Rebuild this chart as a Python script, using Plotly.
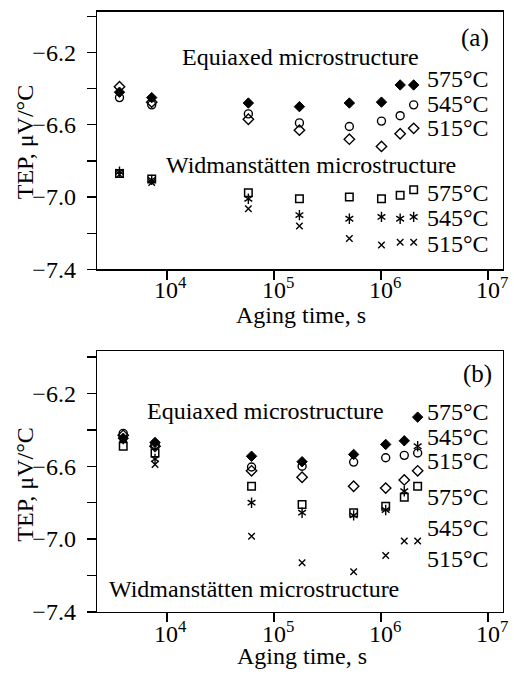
import plotly.graph_objects as go

# ---------------- data ----------------
# Panel (a)
t_a = [3600, 7200, 57600, 172800, 506000, 1010000, 1510000, 2020000]
eq575_a = [-6.42, -6.45, -6.48, -6.50, -6.48, -6.475, -6.38, -6.38]
eq545_a = [-6.45, -6.49, -6.54, -6.59, -6.61, -6.58, -6.55, -6.49]
eq515_a = [-6.39, -6.475, -6.57, -6.63, -6.68, -6.72, -6.65, -6.62]
wd575_a = [-6.87, -6.90, -6.976, -7.01, -7.00, -7.01, -6.99, -6.96]
wd545_a = [-6.86, -6.905, -7.01, -7.10, -7.12, -7.11, -7.12, -7.11]
wd515_a = [-6.875, -6.92, -7.065, -7.16, -7.23, -7.265, -7.25, -7.25]

# Panel (b)
t_b = [3900, 7730, 61700, 183000, 555000, 1106000, 1650000, 2200000]
eq575_b = [-6.446, -6.469, -6.545, -6.575, -6.535, -6.48, -6.46, -6.33]
eq545_b = [-6.419, -6.48, -6.604, -6.60, -6.577, -6.553, -6.54, -6.527]
eq515_b = [-6.43, -6.49, -6.625, -6.66, -6.71, -6.72, -6.675, -6.625]
wd575_b = [-6.49, -6.527, -6.71, -6.81, -6.855, -6.82, -6.77, -6.71]
wd545_b = [-6.45, -6.56, -6.80, -6.855, -6.87, -6.84, -6.737, -6.49]
wd515_b = [-6.45, -6.59, -6.985, -7.13, -7.18, -7.09, -7.01, -7.01]

y_tickvals = [-6.0, -6.2, -6.4, -6.6, -6.8, -7.0, -7.2, -7.4]
y_ticktext = ["", "\u22126.2", "", "\u22126.6", "", "\u22127.0", "", "\u22127.4"]
x_decades = [4, 5, 6, 7]
x_tickvals = [10 ** k for k in x_decades]
x_ticktext = ["10<sup>%d</sup>" % k for k in x_decades]
temps = ["575\u00b0C", "545\u00b0C", "515\u00b0C"]

W, H = 514, 687
FONT = "Liberation Serif"
FS = 24


def px(x):
    return x / W


def py(y):
    return 1 - y / H


fig = go.Figure()

LW = 1.4
styles = [
    [dict(symbol="diamond", size=8, color="black", line=dict(width=1, color="black"))],
    [dict(symbol="circle-open", size=8, color="black", line=dict(width=LW, color="black"))],
    [dict(symbol="diamond-open", size=8, color="black", line=dict(width=LW, color="black"))],
    [dict(symbol="square-open", size=7.5, color="black", line=dict(width=1.5, color="black"))],
    [dict(symbol="y-up-open", size=6.5, color="black", line=dict(width=LW, color="black")),
     dict(symbol="y-down-open", size=6.5, color="black", line=dict(width=LW, color="black"))],
    [dict(symbol="x-thin-open", size=6.5, color="black", line=dict(width=LW, color="black"))],
]

panels = [
    ("x", "y", t_a, [eq575_a, eq545_a, eq515_a, wd575_a, wd545_a, wd515_a]),
    ("x2", "y2", t_b, [eq575_b, eq545_b, eq515_b, wd575_b, wd545_b, wd515_b]),
]
for xa, ya, t, series in panels:
    for s, sts in zip(series, styles):
        for st in sts:
            fig.add_trace(go.Scatter(x=t, y=s, mode="markers", marker=st,
                                     xaxis=xa, yaxis=ya, showlegend=False,
                                     cliponaxis=False, hoverinfo="skip"))

xr = [3.346, 7.14]
axis_common = dict(showline=True, linecolor="black", linewidth=1.3, mirror=True,
                   ticks="outside", ticklen=9, tickwidth=1.3, tickcolor="black",
                   showgrid=False, zeroline=False,
                   tickfont=dict(family=FONT, size=FS, color="black"))

fig.update_layout(
    width=W, height=H,
    margin=dict(l=0, r=0, t=0, b=0),
    plot_bgcolor="white", paper_bgcolor="white",
    font=dict(family=FONT, size=FS, color="black"),
    xaxis=dict(type="log", range=xr, domain=[px(97), px(503)], anchor="y",
               tickvals=x_tickvals, showticklabels=False, **axis_common),
    yaxis=dict(range=[-7.4, -5.975], domain=[py(274.5), py(12)], anchor="x",
               tickvals=y_tickvals, ticktext=y_ticktext, ticklabelstandoff=6,
               **axis_common),
    xaxis2=dict(type="log", range=xr, domain=[px(97), px(503)], anchor="y2",
                tickvals=x_tickvals, showticklabels=False, **axis_common),
    yaxis2=dict(range=[-7.4, -5.968], domain=[py(623.7), py(358)], anchor="x2",
                tickvals=y_tickvals, ticktext=y_ticktext, ticklabelstandoff=6,
                **axis_common),
)

ann = []


def text(x, y, s, size=FS, xanchor="center"):
    ann.append(dict(x=px(x), y=py(y), xref="paper", yref="paper", text=s,
                    showarrow=False, xanchor=xanchor, yanchor="middle",
                    font=dict(family=FONT, size=size, color="black")))


# x tick labels, placed on the log axes at each decade
for xref, ylab in [("x", 294), ("x2", 644)]:
    for k, lab in zip(x_decades, x_ticktext):
        ann.append(dict(x=k, y=py(ylab), xref=xref, yref="paper", text=lab,
                        showarrow=False, xanchor="center", yanchor="middle",
                        xshift=4, font=dict(family=FONT, size=FS, color="black")))

# Panel (a) texts
text(475, 39, "(a)", 25)
text(300, 58, "Equiaxed microstructure")
text(311, 168, "Widmanst\u00e4tten microstructure")
for y, s in zip([80.5, 105.5, 130.5, 197, 222.5, 249], temps * 2):
    text(425, y, s, FS, "left")
text(301, 321, "Aging time, s")

# Panel (b) texts
text(477, 381, "(b)", 25)
text(265, 419, "Equiaxed microstructure")
text(254, 600, "Widmanst\u00e4tten microstructure")
for y, s in zip([420, 445, 470, 507, 538, 569.5], temps * 2):
    text(425, y, s, FS, "left")
text(302, 669, "Aging time, s")

# y-axis titles
for yc in [145, 494]:
    ann.append(dict(x=px(25), y=py(yc), xref="paper", yref="paper",
                    text="TEP, \u03bcV/\u00b0C", showarrow=False, textangle=-90,
                    xanchor="center", yanchor="middle",
                    font=dict(family=FONT, size=FS, color="black")))

fig.update_layout(annotations=ann)
# remove the default page margin so the 514x687 figure fills the window exactly
fig.write_html("out.html",
               config={"displayModeBar": False, "staticPlot": True},
               post_script="document.body.style.margin='0';"
                           "document.body.style.overflow='hidden';")
